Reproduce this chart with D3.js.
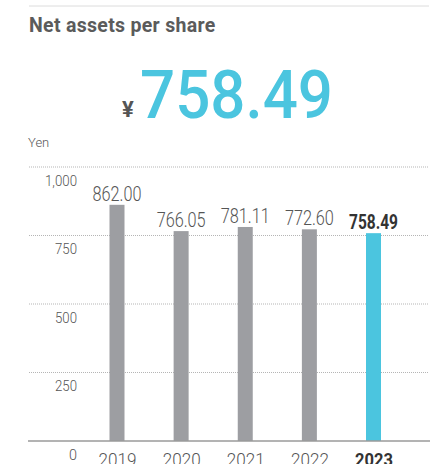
<!DOCTYPE html>
<html>
<head>
<meta charset="utf-8">
<script src="https://cdn.jsdelivr.net/npm/d3@7"></script>
<style>
  body { margin: 0; background: #fff; }
  svg { display: block; font-family: Roboto, sans-serif; }
</style>
</head>
<body>
<svg id="chart" width="441" height="464"></svg>
<script>
const years = ['2019', '2020', '2021', '2022', '2023'];
const values = [862.00, 766.05, 781.11, 772.60, 758.49];
const valueLabels = ['862.00', '766.05', '781.11', '772.60', '758.49'];
const yTicks = [0, 250, 500, 750, 1000];
const headline = '758.49';

const svg = d3.select('#chart');
const GRAY = '#9d9ea2';
const CYAN = '#4bc5df';
const last = years.length - 1;

//scales
const x = d3.scalePoint().domain(years).range([117, 373.5]);
const y = d3.scaleLinear().domain([0, 1000]).range([441, 167]);
const barW = 15;

//header
svg.append('line')
  .attr('x1', 29).attr('x2', 429).attr('y1', 6).attr('y2', 6)
  .attr('stroke', '#dcdcdc').attr('stroke-width', 1);

svg.append('text')
  .attr('x', 29).attr('y', 32)
  .attr('font-size', 19.5).attr('font-weight', 700)
  .attr('fill', '#5b5b5b').attr('letter-spacing', 0.3)
  .text('Net assets per share');

svg.append('text')
  .attr('x', 122).attr('y', 117)
  .attr('font-size', 22).attr('font-weight', 700)
  .attr('fill', '#555')
  .text('¥');

svg.append('text')
  .attr('x', 140).attr('y', 118)
  .attr('font-size', 66).attr('font-weight', 500)
  .attr('fill', CYAN)
  .attr('textLength', 193).attr('lengthAdjust', 'spacingAndGlyphs')
  .text(headline);

svg.append('text')
  .attr('x', 28).attr('y', 147)
  .attr('font-size', 13).attr('font-weight', 300)
  .attr('fill', '#555')
  .text('Yen');

//gridlines
svg.append('g').selectAll('line')
  .data(yTicks.filter(d => d > 0))
  .join('line')
  .attr('x1', 29).attr('x2', 429)
  .attr('y1', d => y(d)).attr('y2', d => y(d))
  .attr('stroke', '#b5b5b5').attr('stroke-width', 1)
  .attr('stroke-dasharray', '1,1');

//y tick labels
const yAxis = d3.axisLeft(y).tickValues(yTicks).tickSize(0).tickPadding(0)
  .tickFormat(d3.format(','));
const yAxisGroup = svg.append('g').attr('transform', 'translate(77,0)').call(yAxis);
yAxisGroup.select('.domain').remove();
yAxisGroup.selectAll('text')
  .attr('font-family', 'Roboto, sans-serif')
  .attr('font-size', 15).attr('font-weight', 300)
  .attr('fill', '#555')
  .attr('dy', '1.2em')
  .attr('textLength', d => d === 1000 ? 32 : (d === 0 ? 8 : 22))
  .attr('lengthAdjust', 'spacingAndGlyphs');

//bars
svg.append('g').selectAll('rect')
  .data(values)
  .join('rect')
  .attr('x', (d, i) => x(years[i]) - barW / 2)
  .attr('width', barW)
  .attr('y', d => y(d))
  .attr('height', d => y(0) - y(d))
  .attr('fill', (d, i) => i === last ? CYAN : GRAY);

//value labels
svg.append('g').selectAll('text')
  .data(values)
  .join('text')
  .attr('x', (d, i) => x(years[i]))
  .attr('y', d => y(d) - 4)
  .attr('text-anchor', 'middle')
  .attr('font-size', 20)
  .attr('font-weight', (d, i) => i === last ? 700 : 300)
  .attr('fill', (d, i) => i === last ? '#333' : '#555')
  .attr('textLength', 49).attr('lengthAdjust', 'spacingAndGlyphs')
  .text((d, i) => valueLabels[i]);

//baseline
svg.append('line')
  .attr('x1', 28).attr('x2', 430).attr('y1', y(0)).attr('y2', y(0))
  .attr('stroke', '#9a9a9a').attr('stroke-width', 1.5);

//x axis labels
const xAxis = d3.axisBottom(x).tickSize(0).tickPadding(0);
const xAxisGroup = svg.append('g').attr('transform', `translate(0,${y(0)})`).call(xAxis);
xAxisGroup.select('.domain').remove();
xAxisGroup.selectAll('text')
  .attr('font-family', 'Roboto, sans-serif')
  .attr('font-size', 19)
  .attr('font-weight', d => d === years[last] ? 700 : 300)
  .attr('fill', d => d === years[last] ? '#333' : '#555')
  .attr('dy', 0)
  .attr('y', 25)
  .attr('textLength', 38).attr('lengthAdjust', 'spacingAndGlyphs');
</script>
</body>
</html>
